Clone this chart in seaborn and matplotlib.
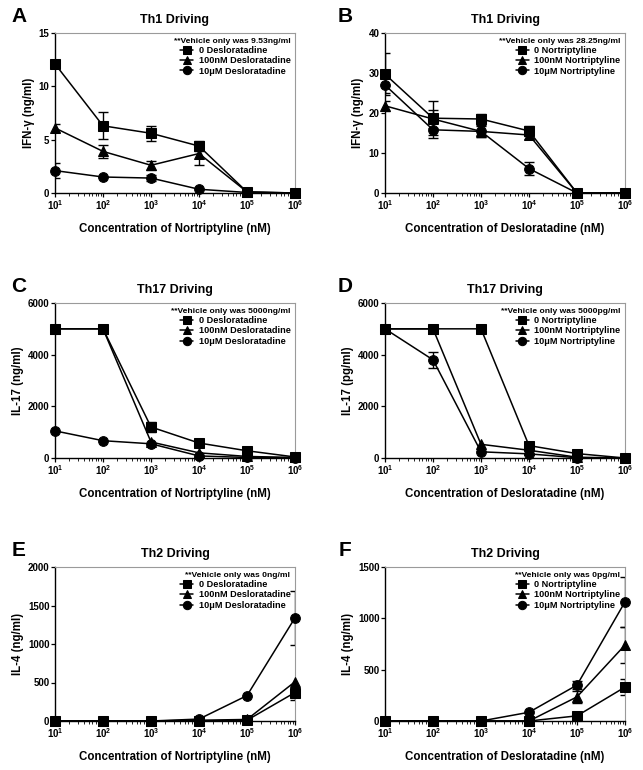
import numpy as np
import pandas as pd
import matplotlib
matplotlib.use("Agg")
import matplotlib.pyplot as plt
import seaborn as sns

# concentrations (nM)
conc = [1e1, 1e2, 1e3, 1e4, 1e5, 1e6]

# Panel A - Th1, IFN-g vs nortriptyline
a_sq = [12.1, 6.3, 5.6, 4.4, 0.1, 0.0]
a_sq_err = [0, 1.25, 0.7, 0.5, 0, 0]
a_tri = [6.1, 3.9, 2.6, 3.7, 0.1, 0.0]
a_tri_err = [0.4, 0.6, 0.4, 1.1, 0, 0]
a_cir = [2.1, 1.5, 1.4, 0.35, 0.05, 0.0]
a_cir_err = [0.7, 0, 0.3, 0, 0, 0]

# Panel B - Th1, IFN-g vs desloratadine
b_sq = [29.7, 18.7, 18.5, 15.5, 0.0, 0.0]
b_sq_err = [5.3, 4.2, 1.3, 1.2, 0, 0]
b_tri = [21.8, 18.5, 15.4, 14.5, 0.0, 0.0]
b_tri_err = [1.2, 2.2, 1.5, 1.0, 0, 0]
b_cir = [27.0, 15.8, 15.4, 6.1, 0.0, 0.0]
b_cir_err = [2.0, 2.0, 1.3, 1.6, 0, 0]

# Panel C - Th17, IL-17 vs nortriptyline
c_sq = [5000, 5000, 1200, 580, 280, 40]
c_sq_err = [0, 0, 200, 0, 0, 0]
c_tri = [5000, 5000, 620, 200, 60, 20]
c_tri_err = [0, 0, 0, 0, 0, 0]
c_cir = [1050, 670, 550, 80, 20, 10]
c_cir_err = [0, 0, 0, 0, 0, 0]

# Panel D - Th17, IL-17 vs desloratadine
d_sq = [5000, 5000, 5000, 480, 170, 0]
d_sq_err = [0, 0, 0, 0, 0, 0]
d_tri = [5000, 5000, 530, 300, 30, 0]
d_tri_err = [0, 0, 0, 0, 0, 0]
d_cir = [5000, 3800, 240, 160, 10, 0]
d_cir_err = [0, 320, 0, 0, 0, 0]

# Panel E - Th2, IL-4 vs nortriptyline
e_sq = [0, 0, 0, 0, 10, 370]
e_sq_err = [0, 0, 0, 0, 0, 95]
e_tri = [0, 0, 0, 10, 20, 510]
e_tri_err = [0, 0, 0, 0, 0, 0]
e_cir = [0, 0, 0, 25, 330, 1340]
e_cir_err = [0, 0, 0, 0, 0, 350]

# Panel F - Th2, IL-4 vs desloratadine
f_sq = [0, 0, 0, 0, 50, 330]
f_sq_err = [0, 0, 0, 0, 0, 80]
f_tri = [0, 0, 0, 0, 235, 740]
f_tri_err = [0, 0, 0, 0, 60, 175]
f_cir = [0, 0, 0, 85, 350, 1160]
f_cir_err = [0, 0, 0, 0, 35, 245]

des_labels = ["0 Desloratadine", "100nM Desloratadine", "10\u03bcM Desloratadine"]
nor_labels = ["0 Nortriptyline", "100nM Nortriptyline", "10\u03bcM Nortriptyline"]

panels = [
    ("A", "Th1 Driving", "IFN-\u03b3 (ng/ml)", "Concentration of Nortriptyline (nM)",
     "**Vehicle only was 9.53ng/ml", des_labels, (a_sq, a_tri, a_cir),
     (a_sq_err, a_tri_err, a_cir_err), (0, 15), [0, 5, 10, 15]),
    ("B", "Th1 Driving", "IFN-\u03b3 (ng/ml)", "Concentration of Desloratadine (nM)",
     "**Vehicle only was 28.25ng/ml", nor_labels, (b_sq, b_tri, b_cir),
     (b_sq_err, b_tri_err, b_cir_err), (0, 40), [0, 10, 20, 30, 40]),
    ("C", "Th17 Driving", "IL-17 (ng/ml)", "Concentration of Nortriptyline (nM)",
     "**Vehicle only was 5000ng/ml", des_labels, (c_sq, c_tri, c_cir),
     (c_sq_err, c_tri_err, c_cir_err), (0, 6000), [0, 2000, 4000, 6000]),
    ("D", "Th17 Driving", "IL-17 (pg/ml)", "Concentration of Desloratadine (nM)",
     "**Vehicle only was 5000pg/ml", nor_labels, (d_sq, d_tri, d_cir),
     (d_sq_err, d_tri_err, d_cir_err), (0, 6000), [0, 2000, 4000, 6000]),
    ("E", "Th2 Driving", "IL-4 (ng/ml)", "Concentration of Nortriptyline (nM)",
     "**Vehicle only was 0ng/ml", des_labels, (e_sq, e_tri, e_cir),
     (e_sq_err, e_tri_err, e_cir_err), (0, 2000), [0, 500, 1000, 1500, 2000]),
    ("F", "Th2 Driving", "IL-4 (ng/ml)", "Concentration of Desloratadine (nM)",
     "**Vehicle only was 0pg/ml", nor_labels, (f_sq, f_tri, f_cir),
     (f_sq_err, f_tri_err, f_cir_err), (0, 1500), [0, 500, 1000, 1500]),
]

sns.set_theme(style="ticks")
plt.rcParams["font.family"] = ["Liberation Sans", "DejaVu Sans"]
plt.rcParams["font.weight"] = "bold"
plt.rcParams["axes.labelweight"] = "bold"
plt.rcParams["text.color"] = "black"
plt.rcParams["axes.labelcolor"] = "black"
plt.rcParams["xtick.color"] = "black"
plt.rcParams["ytick.color"] = "black"
plt.rcParams["mathtext.fontset"] = "custom"
plt.rcParams["mathtext.rm"] = "Liberation Sans:bold"
plt.rcParams["mathtext.bf"] = "Liberation Sans:bold"
plt.rcParams["mathtext.default"] = "rm"

W, H = 643, 770
fig = plt.figure(figsize=(W / 100, H / 100), dpi=100)

# axes boxes in pixels: (left, right) and (top, bottom)
col_x = [(55, 295), (385, 625)]
letter_x = [19, 345]
row_y = [(33, 193), (303, 458), (567, 721)]
markers = ["s", "^", "o"]

for i, (letter, title, ylab, xlab, header, labels, series, errs, ylim, yticks) in enumerate(panels):
    r, c = divmod(i, 2)
    x0, x1 = col_x[c]
    y0, y1 = row_y[r]
    ax = fig.add_axes([x0 / W, 1 - y1 / H, (x1 - x0) / W, (y1 - y0) / H])

    rows = []
    for lab, vals in zip(labels, series):
        for xv, yv in zip(conc, vals):
            rows.append({"conc": xv, "val": yv, "group": lab})
    df = pd.DataFrame(rows)

    sns.lineplot(data=df, x="conc", y="val", style="group", style_order=labels,
                 markers=markers, dashes=False, color="black", markersize=7,
                 markeredgecolor="black", linewidth=1.1, legend=False, ax=ax,
                 clip_on=False, zorder=3)
    handles = list(ax.lines[:3])

    for vals, ee in zip(series, errs):
        ee = np.array(ee, dtype=float)
        m = ee > 0
        if m.any():
            ax.errorbar(np.array(conc)[m], np.array(vals)[m], yerr=ee[m], fmt="none",
                        ecolor="black", elinewidth=1.0, capsize=3.5, capthick=1.0,
                        clip_on=True)

    ax.set_xscale("log")
    ax.set_xlim(1e1, 1e6)
    ax.set_ylim(*ylim)
    ax.set_yticks(yticks)
    ax.set_xticks(conc)
    ax.set_xticklabels([r"$10^{%d}$" % k for k in range(1, 7)])
    ax.tick_params(axis="both", labelsize=7, length=3, width=0.9, pad=1, color="black")
    ax.tick_params(axis="x", which="minor", length=2, width=0.6, color="black")
    for lab in ax.get_yticklabels():
        lab.set_fontweight("bold")
    ax.set_xlabel(xlab, fontsize=8.3, fontweight="bold", labelpad=8)
    ax.set_ylabel(ylab, fontsize=8.3, fontweight="bold", labelpad=3)
    for s in ["left", "bottom"]:
        ax.spines[s].set_color("black")
        ax.spines[s].set_linewidth(1.0)
    for s in ["top", "right"]:
        ax.spines[s].set_visible(True)
        ax.spines[s].set_color("#9a9a9a")
        ax.spines[s].set_linewidth(0.8)

    ax.text(0.5, 1.045, title, transform=ax.transAxes, ha="center", va="bottom",
            fontsize=9, fontweight="bold")
    fig.text(letter_x[c] / W, 1 - (y0 - 17) / H, letter, ha="center", va="center",
             fontsize=15, fontweight="bold")

    leg = ax.legend(handles, labels, loc="upper right", frameon=False,
                    title=header, fontsize=6.6, title_fontsize=6.1,
                    handlelength=1.4, handletextpad=0.6, labelspacing=0.15,
                    borderaxespad=0.25, borderpad=0.25, alignment="right")
    leg.get_title().set_fontweight("bold")
    for t in leg.get_texts():
        t.set_fontweight("bold")
    for h in leg.legend_handles:
        h.set_markersize(6)

fig.savefig("out.png", dpi=100, facecolor="white")
